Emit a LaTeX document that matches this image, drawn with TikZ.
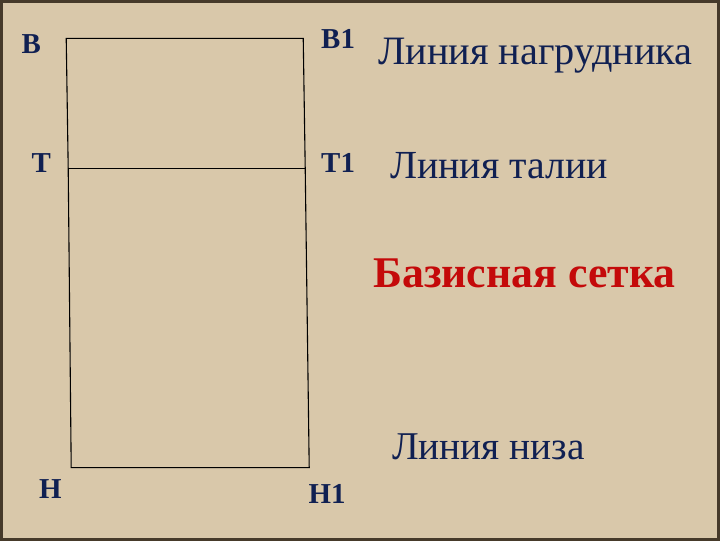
\documentclass[tikz,border=0pt]{standalone}
\usepackage{fontspec}
\setmainfont{Liberation Serif}
\usetikzlibrary{positioning,calc}
\definecolor{paper}{RGB}{217,200,170}
\definecolor{edgebrown}{RGB}{70,58,42}
\definecolor{ink}{RGB}{16,32,82}
\definecolor{titlered}{RGB}{196,10,10}
\begin{document}
\begin{tikzpicture}[x=1pt,y=-1pt]
                        \tikzstyle{every node}=[inner sep=0,text=ink]
                        \tikzstyle{pt}=[font=\fontsize{29}{29}\selectfont\bfseries]
                        \tikzstyle{note}=[font=\fontsize{40}{40}\selectfont,anchor=base west]
                        \tikzstyle{grid}=[draw=black,line width=1.1]
                        {
                            \fill[paper,draw=edgebrown,line width=3] (0,0) rectangle (720,540);
                            % corners of the grid
                            \coordinate (v) at (65,37);
                            \coordinate (v1) at (303,37);
                            \coordinate (t) at (67,168);
                            \coordinate (t1) at (305,168);
                            \coordinate (n) at (70,468);
                            \coordinate (n1) at (309,468);
                            \draw[grid] (v) -- (v1) -- (t1) -- (n1) -- (n) -- (t) -- cycle;
                            \draw[grid] (t) -- (t1);
                            % point labels
                            \node[pt] (lv) at (30,43) {В};
                            \node[pt] (lv1) at (338,38) {В1};
                            \node[pt] (lt) at (40,162) {Т};
                            \node[pt] (lt1) at (338,162) {Т1};
                            \node[pt] (ln) at (49,490) {Н};
                            \node[pt] (ln1) at (327,495) {Н1};
                            % line labels
                            \node[note,font=\fontsize{40.5}{40}\selectfont] (bust) at (378,63) {Линия нагрудника};
                            \node[note] (waist) at (390,178) {Линия талии};
                            \node[note,font=\fontsize{44}{44}\selectfont\bfseries,text=titlered] (title) at (373,287) {Базисная сетка};
                            \node[note,font=\fontsize{39.5}{40}\selectfont] (hem) at (392,460) {Линия низа};
                        }
                    \end{tikzpicture}
\end{document}
